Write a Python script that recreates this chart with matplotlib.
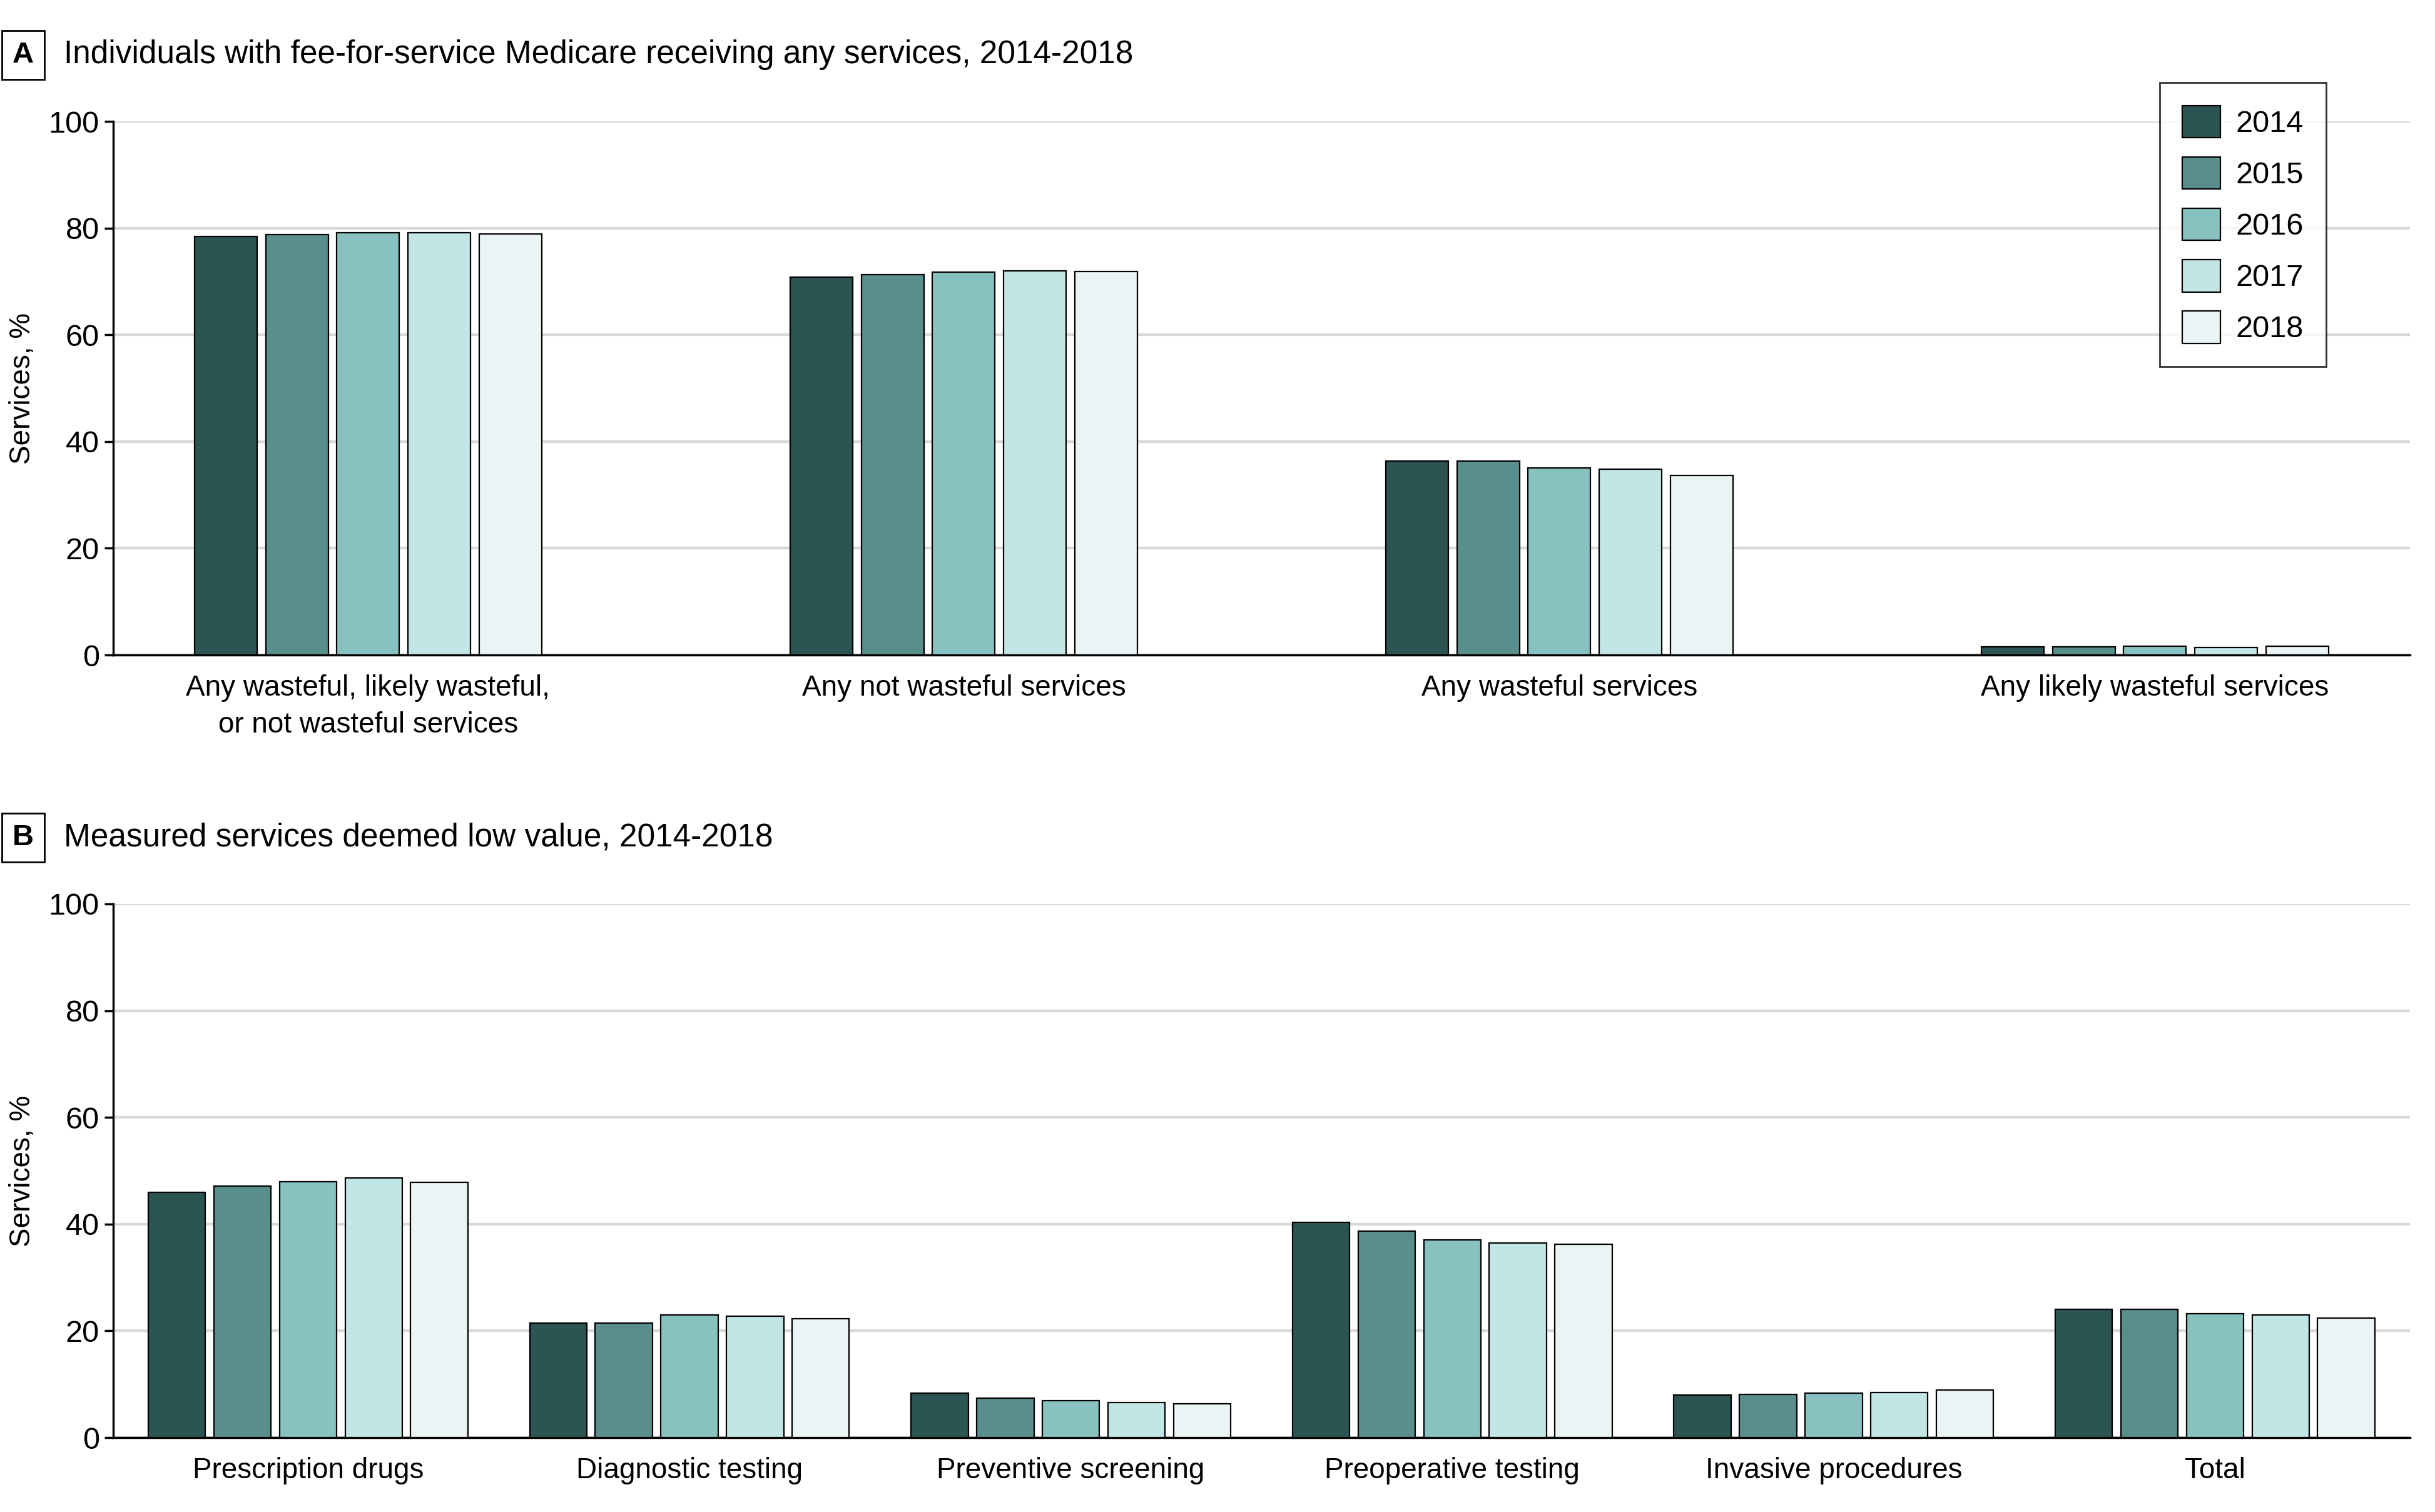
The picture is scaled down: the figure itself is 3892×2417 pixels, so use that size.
import numpy as np
import matplotlib
matplotlib.use("Agg")
import matplotlib.pyplot as plt
from matplotlib import font_manager

years = ["2014", "2015", "2016", "2017", "2018"]
colors = ["#2b5453", "#588e8c", "#87c2c1", "#c1e6e5", "#eaf4f4"]

cats_a = ["Any wasteful, likely wasteful,\nor not wasteful services",
          "Any not wasteful services", "Any wasteful services",
          "Any likely wasteful services"]
vals_a = {
    "2014": [78.4, 70.8, 36.3, 1.5],
    "2015": [78.8, 71.3, 36.4, 1.5],
    "2016": [79.1, 71.8, 35.1, 1.6],
    "2017": [79.2, 72.0, 34.8, 1.4],
    "2018": [78.9, 71.9, 33.7, 1.7],
}

cats_b = ["Prescription drugs", "Diagnostic testing", "Preventive screening",
          "Preoperative testing", "Invasive procedures", "Total"]
vals_b = {
    "2014": [46.0, 21.4, 8.3, 40.3, 8.0, 24.0],
    "2015": [47.1, 21.4, 7.4, 38.7, 8.1, 24.0],
    "2016": [48.0, 23.0, 6.9, 37.0, 8.3, 23.2],
    "2017": [48.7, 22.8, 6.6, 36.5, 8.5, 23.0],
    "2018": [47.8, 22.3, 6.3, 36.2, 8.9, 22.4],
}

avail = {f.name for f in font_manager.fontManager.ttflist}
body_font = "Liberation Sans" if "Liberation Sans" in avail else "DejaVu Sans"
title_font = "Liberation Sans Narrow" if "Liberation Sans Narrow" in avail else body_font
plt.rcParams["font.family"] = body_font

fig = plt.figure(figsize=(38.92, 24.17), dpi=100)
left, right = 0.0465, 0.9897
ax_a = fig.add_axes([left, 0.5668, right - left, 0.9197 - 0.5668])
ax_b = fig.add_axes([left, 0.0492, right - left, 0.4022 - 0.0492])


def draw_panel(ax, cats, vals, pitch, width, margin):
    x = np.arange(len(cats))
    handles = []
    for i, yr in enumerate(years):
        off = (i - 2) * pitch
        h = ax.bar(x + off, vals[yr], width=width, color=colors[i],
                   edgecolor="black", linewidth=1.6, zorder=3, label=yr)
        handles.append(h)
    ax.set_xlim(-margin, len(cats) - 1 + margin)
    ax.set_ylim(0, 100)
    ax.set_yticks(range(0, 101, 20))
    ax.set_xticks(x)
    ax.set_xticklabels(cats, fontsize=33, linespacing=1.45)
    ax.tick_params(axis="x", length=0, pad=22)
    ax.tick_params(axis="y", length=10, width=2.5, labelsize=35, pad=6)
    ax.grid(axis="y", color="#d9d9d9", linewidth=3.2, zorder=0)
    for s in ["top", "right"]:
        ax.spines[s].set_visible(False)
    ax.spines["left"].set_linewidth(2.5)
    ax.spines["bottom"].set_linewidth(2.5)
    ax.set_ylabel("Services, %", fontsize=33)
    ax.yaxis.set_label_coords(-0.0335, 0.5)
    return handles


hs = draw_panel(ax_a, cats_a, vals_a, 0.1194, 0.105, 0.428)
draw_panel(ax_b, cats_b, vals_b, 0.172, 0.15, 0.511)

leg = ax_a.legend(handles=hs, loc="upper right", bbox_to_anchor=(0.9635, 1.0727),
                  borderaxespad=0, fontsize=35, frameon=True, fancybox=False,
                  handlelength=1.25, handleheight=1.25, labelspacing=0.62,
                  handletextpad=0.5, borderpad=0.75)
leg.get_frame().set_edgecolor("black")
leg.get_frame().set_linewidth(2.0)

box = dict(boxstyle="square,pad=0.35", fc="white", ec="black", lw=2.0)
fig.text(37 / 3892, 1 - 88 / 2417, "A", fontsize=34, fontweight="bold",
         ha="center", va="center", bbox=box)
fig.text(102 / 3892, 1 - 88 / 2417,
         "Individuals with fee-for-service Medicare receiving any services, 2014-2018",
         fontsize=37, family=title_font, ha="left", va="center")
fig.text(37 / 3892, 1 - 1339 / 2417, "B", fontsize=34, fontweight="bold",
         ha="center", va="center", bbox=box)
fig.text(102 / 3892, 1 - 1339 / 2417, "Measured services deemed low value, 2014-2018",
         fontsize=37, family=title_font, ha="left", va="center")

fig.savefig("out.png", dpi=100, facecolor="white")
